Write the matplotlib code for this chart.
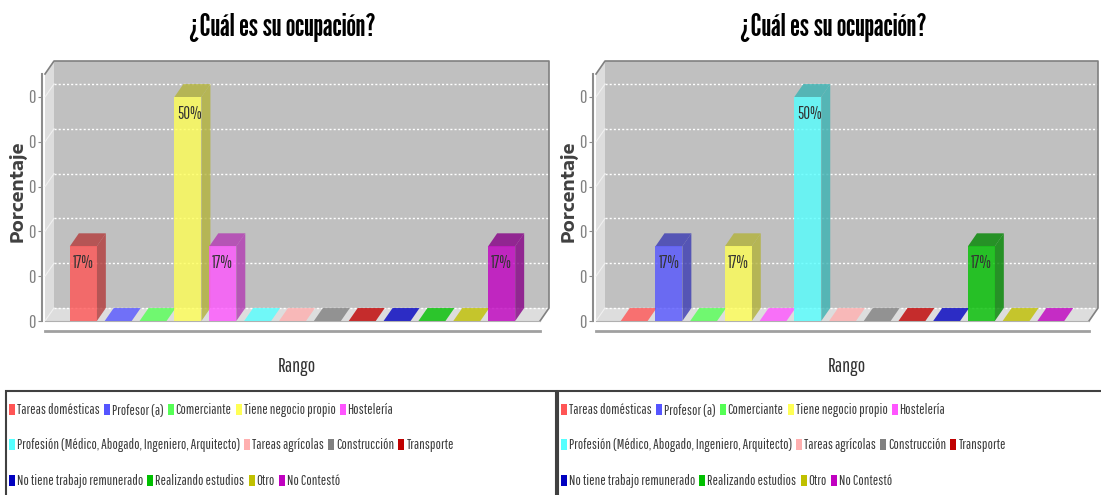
import matplotlib
matplotlib.use("Agg")
import matplotlib.pyplot as plt
from matplotlib.patches import Rectangle, Polygon
from matplotlib.colors import to_rgb
from matplotlib.transforms import offset_copy

# ---- datos ----
titulo = "¿Cuál es su ocupación?"
eje_y = "Porcentaje"
eje_x = "Rango"
categorias = ["Tareas domésticas", "Profesor (a)", "Comerciante", "Tiene negocio propio",
              "Hostelería", "Profesión (Médico, Abogado, Ingeniero, Arquitecto)",
              "Tareas agrícolas", "Construcción", "Transporte", "No tiene trabajo remunerado",
              "Realizando estudios", "Otro", "No Contestó"]
colores = ["#FF5555", "#5555FF", "#55FF55", "#FFFF55", "#FF55FF", "#55FFFF", "#FFAFAF",
           "#808080", "#C00000", "#0000C0", "#00C000", "#C0C000", "#C000C0"]
valores_izq = [0.1667, 0, 0, 0.5, 0.1667, 0, 0, 0, 0, 0, 0, 0, 0.1667]
valores_der = [0, 0.1667, 0, 0.1667, 0, 0.5, 0, 0, 0, 0, 0.1667, 0, 0]
ticks = [0, 0.1, 0.2, 0.3, 0.4, 0.5]
ticks_txt = ["0", "0", "0", "0", "0", "0"]
filas_leyenda = [5, 4, 4]

W, H = 1101, 495
DX, DY = 9, 13          # profundidad 3D en pixeles
F_TIT = ["League Gothic", "DejaVu Sans"]
F_TXT = ["Pathway Gothic One", "DejaVu Sans"]
F_EJE = ["Encode Sans Expanded", "DejaVu Sans"]

fig = plt.figure(figsize=(W / 100, H / 100), dpi=100)
fig.patch.set_facecolor("white")


def caja(x0, y0, x1, y1):
    return [x0 / W, 1 - y1 / H, (x1 - x0) / W, (y1 - y0) / H]


def oscuro(c):
    r, g, b = to_rgb(c)
    return (r * 0.7, g * 0.7, b * 0.7)


def panel(xl, xr, valores, cx):
    ax = fig.add_axes(caja(xl, 74, xr, 321))
    ax.set_xlim(-1.1, 13.1)
    ax.set_ylim(0, 0.5513)
    ax.patch.set_visible(False)
    x0, x1 = ax.get_xlim()
    y0, y1 = ax.get_ylim()

    def back(x, y):
        p = ax.transData.transform((x, y)) + (DX, DY)
        return tuple(ax.transData.inverted().transform(p))

    # paredes y suelo
    ax.add_patch(Polygon([back(x0, y0), back(x1, y0), back(x1, y1), back(x0, y1)],
                         fc="#C0C0C0", ec="none", clip_on=False, zorder=0.2))
    ax.add_patch(Polygon([(x0, y0), (x0, y1), back(x0, y1), back(x0, y0)],
                         fc="#DDDDDD", ec="none", clip_on=False, zorder=0.2))
    ax.add_patch(Polygon([(x0, y0), (x1, y0), back(x1, y0), back(x0, y0)],
                         fc="#DDDDDD", ec="none", clip_on=False, zorder=0.3))
    for t in ticks:
        a, b = back(x0, t), back(x1, t)
        ax.plot([a[0], b[0]], [a[1], b[1]], color="white", lw=1, ls=(0, (1.5, 1.5)),
                clip_on=False, zorder=0.4)
        ax.plot([x0, a[0]], [t, a[1]], color="#F0F0F0", lw=0.8, clip_on=False, zorder=0.4)
    borde = [(x0, y1), back(x0, y1), back(x1, y1), back(x1, y0), (x1, y0)]
    ax.plot([p[0] for p in borde], [p[1] for p in borde], color="#808080", lw=1.2,
            clip_on=False, zorder=0.5)
    ax.plot([x0, x1], [y0, y0], color="#B0B0B0", lw=0.8, clip_on=False, zorder=0.5)

    # barras
    w = 0.775
    etiqueta = offset_copy(ax.transData, fig=fig, x=3, y=-17, units="dots")
    for i, (v, c) in enumerate(zip(valores, colores)):
        a, b = i - w / 2, i + w / 2
        if v > 0:
            ax.add_patch(Polygon([(b, 0), (b, v), back(b, v), back(b, 0)], fc=oscuro(c),
                                 ec="none", alpha=0.8, clip_on=False, zorder=2))
            ax.add_patch(Polygon([(a, v), (b, v), back(b, v), back(a, v)], fc=oscuro(c),
                                 ec="none", alpha=0.8, clip_on=False, zorder=2))
            ax.add_patch(Rectangle((a, 0), w, v, fc=c, ec="none", alpha=0.8, zorder=2.1))
            ax.text(a, v, f"{round(v * 100)}%", transform=etiqueta, ha="left", va="center",
                    fontsize=12, color="#333333", family=F_TXT, zorder=3)
        else:
            ax.add_patch(Polygon([(a, 0), (b, 0), back(b, 0), back(a, 0)], fc=c, ec="none",
                                 alpha=0.8, clip_on=False, zorder=1))

    # ejes
    for s in ["top", "right"]:
        ax.spines[s].set_visible(False)
    ax.spines["left"].set_position(("outward", 2))
    ax.spines["left"].set_color("#8C8C8C")
    ax.spines["left"].set_linewidth(1.5)
    ax.spines["bottom"].set_position(("outward", 7))
    ax.spines["bottom"].set_color("#A0A0A0")
    ax.spines["bottom"].set_linewidth(2)
    ax.set_xticks([])
    ax.set_yticks(ticks, ticks_txt)
    ax.tick_params(axis="y", length=3, color="#8C8C8C", labelcolor="#808080",
                   labelsize=13, pad=2)
    for lbl in ax.get_yticklabels():
        lbl.set_family(F_TXT)

    fig.text(cx / W, 1 - 28 / H, titulo, ha="center", va="center", fontsize=22,
             family=F_TIT, color="black")
    fig.text((xl - 27) / W, 1 - 191 / H, eje_y, ha="center", va="center", rotation=90,
             fontsize=12.5, fontweight="bold", family=F_EJE, color="#404040")
    fig.text((xl + xr + DX) / 2 / W, 1 - 366 / H, eje_x, ha="center", va="center",
             fontsize=14.5, family=F_TXT, color="#333333")
    return ax


def leyenda(bx0, bx1):
    fig.patches.append(Rectangle((bx0 / W, -0.01), (bx1 - bx0) / W, 0.01 + 1 - 391 / H,
                                 transform=fig.transFigure, fill=False, ec="#404040",
                                 lw=1.5))
    r = fig.canvas.get_renderer()
    k = 0
    for fila, n in enumerate(filas_leyenda):
        y = [410, 445, 481][fila]
        x = bx0 + 3
        for _ in range(n):
            fig.patches.append(Rectangle((x / W, 1 - (y + 5) / H), 6 / W, 11 / H,
                                         transform=fig.transFigure, fc=colores[k],
                                         ec="none"))
            t = fig.text((x + 8) / W, 1 - y / H, categorias[k], ha="left", va="center",
                         fontsize=10.3, family=F_TXT, color="#3A3A3A")
            x = t.get_window_extent(r).x1 + 4
            k += 1


panel(45, 540, valores_izq, 282)
panel(596, 1089, valores_der, 833)
leyenda(6, 556)
leyenda(558, 1110)

fig.savefig("out.png", dpi=100)
